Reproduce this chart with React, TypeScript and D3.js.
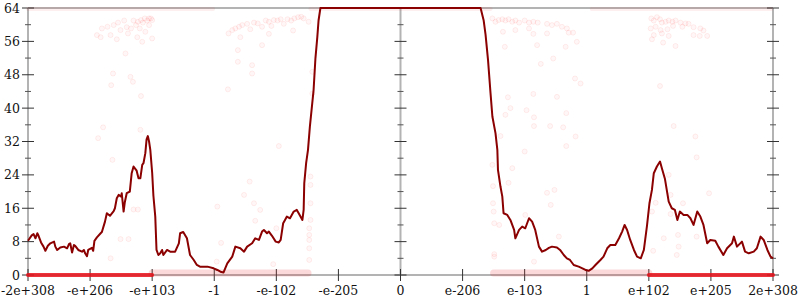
import React from "react";
import * as d3 from "d3";

// x values are positions on the ordinal-float axis, in tick units (-6 .. 6)
const xTickLabels = ["-2e+308", "-e+206", "-e+103", "-1", "-e-102", "-e-205", "0", "e-206", "e-103", "1", "e+102", "e+205", "2e+308"];
const xTickPos = [-6, -5, -4, -3, -2, -1, 0, 1, 2, 3, 4, 5, 6];
const yMajorTicks = [0, 8, 16, 24, 32, 40, 48, 56, 64];
const yMinorTicks = [4, 12, 20, 28, 36, 44, 52, 60];

// averaged error line
const avgX = [-6.0, -5.94, -5.91, -5.88, -5.85, -5.83, -5.79, -5.75, -5.72, -5.68, -5.64, -5.58, -5.56, -5.53, -5.48, -5.42, -5.37, -5.34, -5.32, -5.29, -5.26, -5.24, -5.19, -5.13, -5.1, -5.08, -5.05, -5.03, -4.97, -4.95, -4.93, -4.89, -4.83, -4.81, -4.76, -4.73, -4.68, -4.62, -4.6, -4.57, -4.54, -4.5, -4.49, -4.46, -4.44, -4.41, -4.36, -4.33, -4.3, -4.25, -4.22, -4.19, -4.16, -4.14, -4.11, -4.09, -4.07, -4.05, -4.03, -4.0, -3.98, -3.95, -3.93, -3.9, -3.87, -3.84, -3.82, -3.76, -3.71, -3.63, -3.57, -3.55, -3.5, -3.44, -3.39, -3.33, -3.28, -3.23, -3.11, -3.01, -2.95, -2.9, -2.85, -2.79, -2.71, -2.66, -2.58, -2.52, -2.47, -2.39, -2.34, -2.28, -2.23, -2.2, -2.15, -2.12, -2.07, -2.01, -1.96, -1.93, -1.89, -1.86, -1.83, -1.78, -1.72, -1.67, -1.64, -1.58, -1.56, -1.55, -1.52, -1.49, -1.46, -1.4, -1.37, -1.34, -1.32, -1.29, 1.29, 1.34, 1.37, 1.41, 1.45, 1.48, 1.53, 1.56, 1.57, 1.61, 1.64, 1.66, 1.72, 1.77, 1.83, 1.85, 1.91, 1.96, 2.01, 2.07, 2.12, 2.17, 2.23, 2.28, 2.34, 2.39, 2.44, 2.52, 2.57, 2.63, 2.68, 2.73, 2.79, 2.87, 2.93, 2.98, 3.03, 3.09, 3.14, 3.22, 3.27, 3.33, 3.38, 3.46, 3.52, 3.57, 3.61, 3.65, 3.7, 3.76, 3.81, 3.87, 3.92, 3.97, 4.01, 4.05, 4.08, 4.13, 4.18, 4.21, 4.26, 4.32, 4.37, 4.42, 4.46, 4.5, 4.56, 4.62, 4.67, 4.72, 4.78, 4.83, 4.88, 4.94, 4.99, 5.07, 5.12, 5.2, 5.26, 5.34, 5.37, 5.42, 5.5, 5.55, 5.61, 5.69, 5.74, 5.8, 5.85, 5.91, 5.96, 6.0];
const avgY = [8.2, 9.5, 9.8, 8.8, 10.0, 9.4, 7.8, 6.8, 5.8, 7.0, 7.6, 8.0, 6.8, 6.0, 6.6, 6.8, 6.4, 7.4, 7.6, 5.4, 7.2, 7.0, 6.0, 5.6, 6.0, 5.2, 4.5, 6.0, 6.5, 5.8, 8.2, 9.0, 10.0, 10.3, 12.8, 14.8, 14.2, 15.3, 16.0, 18.4, 19.2, 18.8, 19.6, 15.2, 17.5, 19.6, 20.0, 24.4, 26.0, 25.0, 23.2, 23.2, 26.4, 26.8, 29.2, 32.5, 33.3, 32.0, 30.0, 24.5, 19.0, 14.0, 6.0, 4.8, 5.2, 6.0, 4.8, 6.0, 5.6, 5.6, 7.6, 10.0, 10.3, 8.8, 4.8, 3.6, 2.4, 2.0, 2.0, 1.6, 1.2, 0.8, 0.6, 2.8, 4.4, 6.8, 6.4, 5.6, 6.8, 7.6, 8.8, 8.4, 10.4, 10.8, 10.0, 10.4, 9.4, 8.0, 7.8, 8.4, 12.4, 13.2, 14.0, 13.6, 15.2, 15.6, 14.8, 13.2, 15.6, 22.0, 26.8, 30.0, 35.5, 44.3, 52.0, 57.0, 61.0, 64.0, 64.0, 61.0, 57.6, 51.5, 43.6, 38.0, 34.0, 30.0, 25.2, 21.2, 18.8, 14.8, 14.4, 13.2, 10.8, 8.8, 10.8, 11.6, 11.2, 13.6, 12.8, 10.8, 6.8, 5.6, 6.0, 6.5, 6.8, 6.6, 6.0, 4.8, 4.0, 3.6, 2.4, 2.0, 1.6, 1.2, 1.0, 1.6, 2.4, 3.6, 4.4, 6.4, 7.2, 7.2, 8.8, 10.4, 12.0, 10.8, 8.4, 6.0, 4.4, 4.0, 6.0, 11.8, 17.2, 20.4, 24.4, 26.0, 27.2, 25.6, 23.0, 17.6, 16.0, 15.6, 13.2, 15.2, 14.4, 14.4, 13.6, 12.0, 15.2, 14.0, 12.0, 7.6, 8.4, 8.2, 6.8, 4.8, 6.4, 7.6, 9.2, 6.8, 8.0, 5.6, 5.2, 5.6, 6.4, 9.2, 8.4, 6.0, 4.4, 4.0];

// dense rows of sampled points (start, end, error)
const bandStart = [-6.0, -4.0, 1.5, 4.0, -6.0, -1.45, 3.08];
const bandEnd = [-4.0, -1.49, 4.0, 6.0, -3.02, 1.45, 5.97];
const bandErr = [0, 0.5, 0.5, 0, 64, 64, 64];
const bandKind = ["solid", "light", "light", "solid", "faint", "faint", "faint"];

// individual sampled points
const ptX = [-4.89, -4.83, -4.81, -4.72, -4.67, -4.62, -4.55, -4.57, -4.51, -4.45, -4.41, -4.39, -4.34, -4.3, -4.26, -4.23, -4.2, -4.18, -4.15, -4.12, -4.08, -4.05, -4.02, -4.0, -4.05, -4.11, -4.16, -4.0, -4.24, -4.43, -4.63, -4.35, -4.31, -4.66, -4.18, -4.79, -4.19, -4.87, -4.64, -4.51, -4.38, -4.3, -4.23, -4.67,
  -2.77, -2.71, -2.66, -2.6, -2.55, -2.47, -2.42, -2.36, -2.3, -2.23, -2.17, -2.12, -2.08, -2.04, -1.98, -1.93, -1.88, -1.82, -1.76, -1.71, -1.65, -1.6, -1.56, -1.48, -1.73, -2.12, -2.58, -2.23, -2.62, -2.62, -2.39, -2.39, -2.78, -1.42, -1.42, -1.96, -2.43, -2.52, -2.36, -2.26, -2.34, -2.0, -2.95, -2.89, -2.96, -2.05, -1.45, -1.45, -1.45, -1.45, -1.47, -1.47, -1.47, -1.47, -1.47,
  1.48, 1.53, 1.58, 1.64, 1.69, 1.74, 1.8, 1.85, 1.91, 2.0, 2.07, 2.14, 2.21, 2.36, 2.44, 2.52, 2.6, 2.68, 2.78, 1.65, 1.85, 2.07, 2.14, 2.36, 2.71, 2.84, 1.68, 2.2, 2.66, 2.46, 2.26, 2.81, 2.9, 2.14, 2.52, 1.73, 1.77, 2.03, 1.69, 2.15, 2.67, 2.15, 2.41, 2.62, 1.61, 2.82, 2.67, 2.0, 1.48, 1.8, 1.74, 1.49, 2.36, 2.48, 2.42, 1.49, 1.5, 1.51, 1.59, 2.01, 2.55, 1.51, 1.51, 2.15,
  4.04, 4.08, 4.13, 4.18, 4.21, 4.27, 4.32, 4.38, 4.43, 4.51, 4.59, 4.64, 4.03, 4.11, 4.19, 4.3, 4.39, 4.54, 4.72, 4.83, 4.88, 4.94, 4.72, 4.82, 4.08, 4.21, 4.32, 4.05, 4.23, 4.43, 4.18, 4.4, 4.75, 4.77, 4.32, 4.97, 4.35, 4.11, 4.55, 4.05, 4.35, 4.47, 4.24, 4.77, 4.48, 4.07, 4.45];
const ptY = [57.5, 57.0, 59.1, 59.5, 57.5, 59.9, 60.5, 56.5, 58.7, 61.0, 59.4, 57.9, 59.1, 61.0, 59.9, 60.7, 59.1, 61.1, 60.5, 61.5, 61.0, 61.5, 61.5, 61.1, 59.9, 58.3, 55.9, 56.7, 57.0, 53.1, 48.3, 47.5, 46.3, 45.5, 42.9, 35.4, 34.8, 32.8, 27.6, 8.6, 8.6, 15.7, 15.7, 4.0,
  57.9, 58.7, 59.1, 59.5, 59.9, 60.2, 58.9, 60.5, 60.3, 59.5, 61.0, 60.7, 59.7, 61.1, 61.0, 61.3, 60.2, 61.3, 61.0, 61.5, 61.8, 61.9, 61.5, 60.7, 58.6, 57.8, 57.0, 55.1, 53.9, 51.1, 50.3, 48.3, 44.5, 48.7, 43.5, 30.9, 22.4, 19.2, 17.2, 15.6, 13.0, 11.2, 16.4, 7.7, 3.2, 2.6, 23.6, 21.6, 17.2, 13.2, 11.2, 9.6, 8.4, 6.4, 3.6,
  61.5, 60.7, 61.1, 61.3, 61.0, 61.3, 60.7, 61.0, 60.5, 61.0, 60.5, 60.7, 60.5, 60.2, 59.9, 60.2, 59.5, 59.1, 58.1, 58.3, 58.7, 59.1, 57.8, 57.9, 58.1, 55.9, 54.7, 55.1, 54.7, 51.9, 50.6, 47.1, 45.9, 43.4, 42.7, 42.6, 40.0, 39.5, 38.4, 37.8, 38.8, 35.7, 35.7, 35.4, 33.3, 33.2, 30.9, 29.6, 26.4, 25.6, 22.1, 21.3, 19.7, 20.4, 16.8, 17.2, 15.2, 12.4, 12.0, 14.4, 9.2, 5.0, 4.4, 3.2,
  61.5, 61.0, 61.8, 61.3, 60.5, 60.7, 61.0, 60.7, 61.0, 60.5, 60.3, 60.2, 59.1, 59.5, 58.7, 58.9, 59.7, 59.5, 59.4, 59.1, 58.6, 57.3, 57.5, 57.3, 57.5, 57.9, 57.3, 56.5, 55.7, 54.9, 45.3, 35.7, 33.2, 28.2, 24.0, 19.6, 19.2, 17.3, 17.2, 15.2, 14.6, 9.6, 8.8, 9.2, 6.8, 5.8, 4.8];

const W = 800;
const H = 300;

export default function App() {
  const x = d3.scaleLinear().domain([-6, 6]).range([28, 773]);
  const y = d3.scaleLinear().domain([0, 64]).range([275, 8]);
  const line = d3
    .line<number>()
    .x((_, i) => x(avgX[i]))
    .y((d) => y(d))
    .curve(d3.curveLinear);

  const axisColor = "#b3b3b3";
  const tickColor = "#333";
  const axesX = [-6, 0, 6];
  const font = "DejaVu Serif, serif";

  return (
    <svg
      width={W}
      height={H}
      style={{ position: "absolute", left: 0, top: 0, background: "#fff" }}
      fontFamily={font}
    >
      {/* frame lines */}
      <line x1={x(-6)} x2={x(6)} y1={y(64)} y2={y(64)} stroke={axisColor} strokeWidth={2} />
      <line x1={x(-6)} x2={x(6)} y1={y(0)} y2={y(0)} stroke={axisColor} strokeWidth={2} />
      {axesX.map((a) => (
        <line key={"ax" + a} x1={x(a)} x2={x(a)} y1={y(64)} y2={y(0)} stroke={axisColor} strokeWidth={2} />
      ))}

      {/* y ticks on the three vertical axes */}
      {axesX.map((a) => (
        <g key={"yt" + a}>
          {yMajorTicks.map((t) => (
            <line key={"M" + t} x1={x(a) - 6} x2={x(a) + 6} y1={y(t)} y2={y(t)} stroke={tickColor} strokeWidth={1} />
          ))}
          {yMinorTicks.map((t) => (
            <line key={"m" + t} x1={x(a) - 3} x2={x(a) + 3} y1={y(t)} y2={y(t)} stroke="#555" strokeWidth={1} />
          ))}
        </g>
      ))}
      {yMajorTicks.map((t) => (
        <text key={"yl" + t} x={x(-6) - 8} y={y(t)} dy="0.36em" textAnchor="end" fontSize={12.5} fill="#111">
          {t}
        </text>
      ))}

      {/* x ticks */}
      {xTickPos.map((p, i) => (
        <g key={"xt" + p}>
          <line x1={x(p)} x2={x(p)} y1={y(0) - 6} y2={y(0) + 6} stroke={tickColor} strokeWidth={1} />
          <text x={x(p)} y={295} textAnchor="middle" fontSize={12.5} fill="#111">
            {xTickLabels[i]}
          </text>
        </g>
      ))}

      {/* dense sample rows */}
      {bandStart.map((s, i) => {
        const k = bandKind[i];
        const op = k === "solid" ? 0.85 : k === "light" ? 0.16 : 0.07;
        const sw = k === "solid" ? 4 : k === "light" ? 7 : 4;
        return (
          <line
            key={"b" + i}
            x1={x(s)}
            x2={x(bandEnd[i])}
            y1={y(bandErr[i]) + (k === "faint" ? 1 : 0)}
            y2={y(bandErr[i]) + (k === "faint" ? 1 : 0)}
            stroke="#e8101a"
            strokeOpacity={op}
            strokeWidth={sw}
            strokeLinecap="round"
          />
        );
      })}

      {/* individual samples */}
      {ptX.map((px, i) => (
        <circle
          key={"p" + i}
          cx={x(px)}
          cy={y(ptY[i])}
          r={2.5}
          fill="red"
          fillOpacity={0.03}
          stroke="red"
          strokeOpacity={0.07}
          strokeWidth={1}
        />
      ))}

      {/* average error line */}
      <path d={line(avgY) || ""} fill="none" stroke="#8b0000" strokeWidth={2} strokeLinejoin="round" />
    </svg>
  );
}
